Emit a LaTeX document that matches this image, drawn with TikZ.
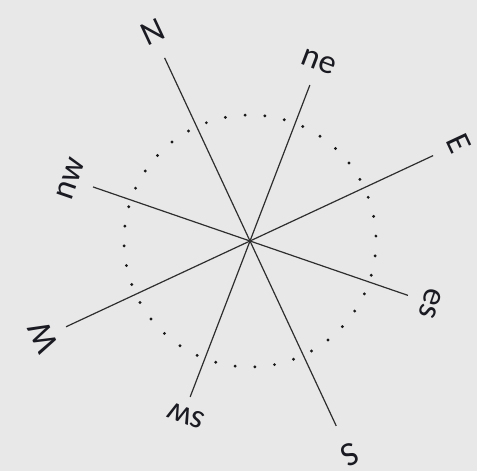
\documentclass[tikz,border=0pt]{standalone}
\usepackage{fontspec}
\setmainfont{Carlito}
\usepackage{tikz}
\usetikzlibrary{calc}
\definecolor{panelgray}{HTML}{E8E8E8}
\definecolor{rayink}{HTML}{2E2E2E}
\definecolor{labelink}{HTML}{1A1A22}
\tikzset{
  ray/.style={draw=rayink,line width=1.2pt},
  dotring/.style={
    draw=black!90,
    line width=3.2pt,
    line cap=round,
    dash pattern=on 0pt off 19.79pt,
    dash phase=14.8pt
  },
  dirlabel/.style={
    font=\fontsize{34}{34}\selectfont,
    text=labelink,
    inner sep=0pt
  }
}

\begin{document}
\begin{tikzpicture}[x=1pt,y=1pt]
  \fill[panelgray] (0,0) rectangle (477,471);
  \useasboundingbox (0,0) rectangle (477,471);
  \coordinate (hub) at (250,230);
  % ray tips
  \coordinate (tipN) at ($(hub)+(115:202)$);
  \coordinate (tipS) at ($(hub)+(295:204)$);
  \coordinate (tipE) at ($(hub)+(25:202)$);
  \coordinate (tipW) at ($(hub)+(205:203)$);
  \coordinate (tipNE) at ($(hub)+(69:167)$);
  \coordinate (tipSW) at ($(hub)+(249:167)$);
  \coordinate (tipNW) at ($(hub)+(161:166)$);
  \coordinate (tipES) at ($(hub)+(341:167)$);
  \draw[ray] (tipN) -- (tipS);
  \draw[ray] (tipE) -- (tipW);
  \draw[ray] (tipNE) -- (tipSW);
  \draw[ray] (tipNW) -- (tipES);
  \draw[dotring] (hub) circle[radius=126pt];
  % direction labels
  \node[dirlabel,rotate=25] (labN) at ($(hub)+(115:231)$) {N};
  \node[dirlabel,rotate=-21] (labNE) at ($(hub)+(69:192)$) {ne};
  \node[dirlabel,rotate=-65] (labE) at ($(hub)+(25:231)$) {E};
  \node[dirlabel,rotate=-109] (labES) at ($(hub)+(341:191)$) {es};
  \node[dirlabel,rotate=-155] (labS) at ($(hub)+(295:236)$) {S};
  \node[dirlabel,rotate=159] (labSW) at ($(hub)+(250:186)$) {sw};
  \node[dirlabel,rotate=115] (labW) at ($(hub)+(205:228)$) {W};
  \node[dirlabel,rotate=71] (labNW) at ($(hub)+(161:190)$) {nw};
\end{tikzpicture}
\end{document}
